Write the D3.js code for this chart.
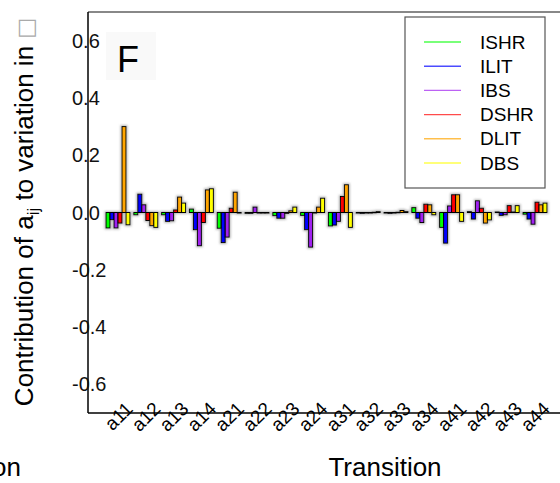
<!DOCTYPE html>
<html>
<head>
<meta charset="utf-8">
<script src="https://cdn.jsdelivr.net/npm/d3@7/dist/d3.min.js"></script>
<style>
  html, body { margin: 0; padding: 0; background: #fff; }
  svg { display: block; font-family: "Liberation Sans", Arial, Helvetica, sans-serif; }
</style>
</head>
<body>
<svg id="chart" width="560" height="483"></svg>
<script>
const categories = ["a11","a12","a13","a14","a21","a22","a23","a24","a31","a32","a33","a34","a41","a42","a43","a44"];
const seriesNames = ["ISHR","ILIT","IBS","DSHR","DLIT","DBS"];
const ISHR = [-0.054,-0.008,-0.008, 0.012,-0.055,-0.003,-0.011,-0.010,-0.047,-0.002,-0.002, 0.017,-0.052, 0.003, 0.002,-0.006];
const ILIT = [-0.025, 0.064,-0.031,-0.060,-0.105,-0.003,-0.020,-0.060,-0.044,-0.003,-0.003,-0.020,-0.107,-0.023,-0.010,-0.023];
const IBS  = [-0.054, 0.027,-0.029,-0.116,-0.086, 0.019,-0.020,-0.121,-0.031,-0.002,-0.002,-0.035, 0.023, 0.041,-0.008,-0.041];
const DSHR = [-0.037,-0.028, 0.009,-0.035, 0.015,-0.002,-0.003,-0.002, 0.056,-0.001, 0.001, 0.029, 0.062, 0.015, 0.024, 0.036];
const DLIT = [ 0.300,-0.046, 0.054, 0.079, 0.071,-0.002, 0.006, 0.019, 0.097, 0.001, 0.007, 0.027, 0.062,-0.037, 0.002, 0.027];
const DBS  = [-0.043,-0.052, 0.033, 0.083,-0.002,-0.001, 0.019, 0.050,-0.052, 0.003, 0.003,-0.008,-0.031,-0.026, 0.024, 0.033];
const seriesValues = [ISHR, ILIT, IBS, DSHR, DLIT, DBS];
const yTicks = [-0.6,-0.4,-0.2,0.0,0.2,0.4,0.6];
const yTickLabels = ["-0.6","-0.4","-0.2","0.0","0.2","0.4","0.6"];
const barColors = ["#00ff00","#0000ff","#a020f0","#ff0000","#ffa500","#ffff00"];

const svg = d3.select("#chart");
const defs = svg.append("defs");
const f = defs.append("filter").attr("id","halo").attr("x","-50%").attr("y","-50%").attr("width","200%").attr("height","200%");
f.append("feMorphology").attr("in","SourceAlpha").attr("operator","dilate").attr("radius",0.8).attr("result","d");
f.append("feGaussianBlur").attr("in","d").attr("stdDeviation",0.8).attr("result","b");
f.append("feFlood").attr("flood-color","#888").attr("flood-opacity",0.6);
f.append("feComposite").attr("in2","b").attr("operator","in").attr("result","s");
const m = f.append("feMerge");
m.append("feMergeNode").attr("in","s");
m.append("feMergeNode").attr("in","SourceGraphic");

const axisX = 88, plotTop = 12, plotBottom = 413;
const y = d3.scaleLinear().domain([-0.7, 0.7]).range([plotBottom, plotTop]);
const x0 = d3.scaleBand().domain(categories).range([104.1, 548.9]).paddingInner(0.137).paddingOuter(0.0685);
const x1 = d3.scaleBand().domain(seriesNames).range([0, x0.bandwidth()]);

// top border
svg.append("line").attr("x1", axisX).attr("x2", 560).attr("y1", plotTop).attr("y2", plotTop)
  .attr("stroke", "#888").attr("stroke-width", 2);

// panel label background + label
svg.append("rect").attr("x", 106).attr("y", 32).attr("width", 50).attr("height", 48).attr("fill", "#f9f9f9");
svg.append("text").attr("x", 117).attr("y", 72).attr("font-size", 36).text("F");

// bars
const data = [];
categories.forEach((c, i) => seriesNames.forEach((s, j) => data.push({c, s, j, v: seriesValues[j][i]})));
svg.append("g").attr("filter","url(#halo)")
  .selectAll("rect").data(data).join("rect")
  .attr("x", d => x0(d.c) + x1(d.s))
  .attr("width", x1.bandwidth())
  .attr("y", d => y(Math.max(0, d.v)))
  .attr("height", d => Math.max(0.6, Math.abs(y(d.v) - y(0))))
  .attr("fill", d => barColors[d.j])
  .attr("stroke", "#000").attr("stroke-width", 1);

// y axis
svg.append("line").attr("x1", axisX).attr("x2", axisX).attr("y1", plotTop).attr("y2", plotBottom)
  .attr("stroke", "#000").attr("stroke-width", 1.5);
svg.append("g").selectAll("text").data(yTicks).join("text")
  .attr("x", 72).attr("y", d => y(d)).attr("dy", "0.35em")
  .attr("font-size", 20).attr("fill", "#111")
  .text((d, i) => yTickLabels[i]);

// x axis
svg.append("line").attr("x1", axisX).attr("x2", 560).attr("y1", plotBottom).attr("y2", plotBottom)
  .attr("stroke", "#000").attr("stroke-width", 1.5);
svg.append("g").selectAll("text").data(categories).join("text")
  .attr("transform", d => `translate(${x0(d) + x0.bandwidth()/2 + 16},${plotBottom - 3}) rotate(-45)`)
  .attr("text-anchor", "end").attr("font-size", 19)
  .text(d => d);

// axis titles
svg.append("text").attr("x", 385).attr("y", 476).attr("text-anchor", "middle").attr("font-size", 26).text("Transition");
svg.append("text").attr("x", 21).attr("y", 476).attr("text-anchor", "end").attr("font-size", 26).text("Transition");

const yl = svg.append("text").attr("transform", "translate(33,212) rotate(-90)")
  .attr("text-anchor", "middle").attr("font-size", 26);
yl.append("tspan").text("Contribution of a");
yl.append("tspan").attr("font-size", 17).attr("dy", 6).text("ij");
yl.append("tspan").attr("dy", -6).text(" to variation in ");
yl.append("tspan").attr("fill", "#aaa").attr("font-family", "DejaVu Sans").attr("font-size", 22).text("\u25A1");

// legend
const lg = svg.append("g");
lg.append("rect").attr("x", 405).attr("y", 17).attr("width", 140).attr("height", 171)
  .attr("fill", "#fff").attr("stroke", "#555").attr("stroke-width", 1.2);
const rows = lg.selectAll("g.r").data(seriesNames).join("g").attr("class","r")
  .attr("transform", (d, i) => `translate(0,${42 + i * 24.2})`);
rows.append("line").attr("x1", 424).attr("x2", 461).attr("y1", 0).attr("y2", 0)
  .attr("stroke", (d, i) => barColors[i]).attr("stroke-width", 1.4).attr("opacity", 0.7);
rows.append("text").attr("x", 480).attr("dy", "0.35em").attr("font-size", 19).text(d => d);
</script>
</body>
</html>
